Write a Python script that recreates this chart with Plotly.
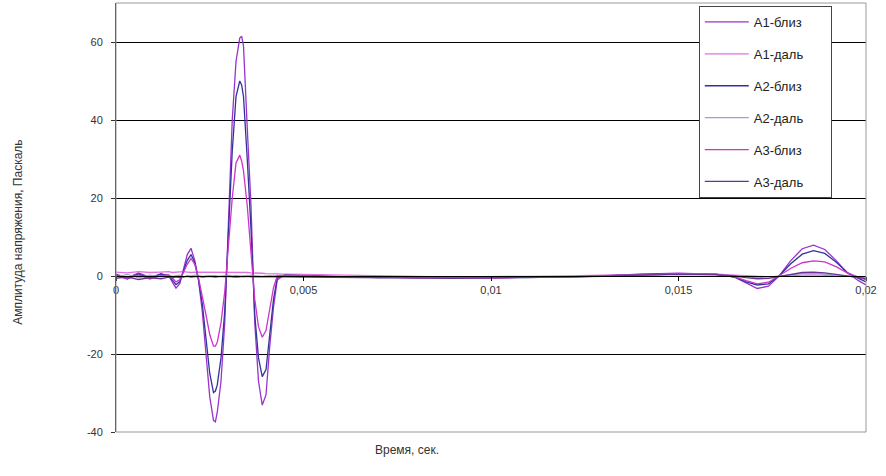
import plotly.graph_objects as go

# time grid, seconds
t = [0, 0.0003, 0.0006, 0.0009, 0.0012, 0.0014, 0.0015, 0.0016, 0.0017, 0.0018,
     0.0019, 0.0020, 0.0021, 0.0022, 0.0023, 0.0024, 0.0025, 0.0026, 0.00265, 0.0027,
     0.0028, 0.0029, 0.0030, 0.0031, 0.0032, 0.0033, 0.00335, 0.0034, 0.0035, 0.0036,
     0.0037, 0.0038, 0.0039, 0.0040, 0.0041, 0.0042, 0.0043, 0.0045, 0.0050, 0.0060,
     0.0070, 0.0080, 0.0090, 0.0100, 0.0110, 0.0120, 0.0130, 0.0140, 0.0150, 0.0160,
     0.0165, 0.0168, 0.0171, 0.0174, 0.0177, 0.0180, 0.0183, 0.0186, 0.0189, 0.0192,
     0.0195, 0.0198, 0.0200]

a1_near = [0.5, -0.5, 0.8, -0.3, 0.4, 0.2, -1.5, -3.1, -2.0, 1.5,
           5.5, 7.1, 4.0, -1.0, -9, -20, -31, -37, -37.4, -35,
           -27, -12, 13, 40, 55, 61, 61.5, 59, 38, 18,
           -12, -27, -33.1, -30.5, -18, -8, -1, 0.3, 0.2, -0.3,
           -0.2, -0.4, -0.3, -0.5, -0.3, -0.2, 0.1, 0.5, 0.7, 0.4,
           -0.3, -1.8, -3.2, -2.6, 0.2, 4.0, 7.0, 7.9, 6.8, 4.0,
           0.8, -1.2, -2.3]
a1_far = [1.0, 0.8, 1.1, 0.9, 1.0, 1.1, 0.9, 1.0, 1.0, 1.1,
          1.0, 0.9, 1.0, 1.0, 0.9, 1.0, 1.0, 0.9, 0.9, 1.0,
          1.0, 0.9, 1.0, 1.0, 0.9, 1.0, 1.0, 0.9, 0.9, 0.8,
          0.8, 0.7, 0.7, 0.6, 0.6, 0.6, 0.5, 0.5, 0.4, 0.2,
          0.0, -0.1, -0.2, -0.2, -0.1, 0.0, 0.2, 0.4, 0.6, 0.5,
          0.3, 0.1, -0.1, -0.2, -0.1, 0.1, 0.2, 0.3, 0.2, 0.1,
          0.0, -0.1, -0.2]
a2_near = [0.2, -0.8, 0.5, -0.6, 0.6, 0.0, -1.0, -2.2, -1.5, 1.0,
           4.0, 5.5, 3.5, -1.0, -7, -16, -25, -29.9, -29.5, -28,
           -21, -9, 11, 32, 46, 50, 49, 46, 30, 12,
           -10, -21, -25.8, -24, -15, -6, -0.5, 0.2, 0.1, -0.2,
           -0.4, -0.3, -0.5, -0.4, -0.4, -0.2, 0.0, 0.4, 0.6, 0.5,
           -0.3, -1.5, -2.3, -2.0, 0.2, 3.2, 5.6, 6.5, 5.8, 3.6,
           0.9, -0.6, -1.5]
a2_far = [-0.3, 0.4, -0.5, 0.2, -0.2, 0.3, -0.1, 0.0, 0.2, -0.2,
          0.1, 0.0, 0.2, 0.1, -0.1, 0.0, 0.1, 0.2, 0.1, 0.0,
          -0.1, 0.1, 0.2, 0.0, 0.1, 0.0, -0.1, 0.1, 0.0, 0.2,
          0.1, 0.0, -0.1, 0.0, 0.1, 0.0, 0.1, 0.0, -0.1, -0.2,
          -0.3, -0.3, -0.4, -0.3, -0.3, -0.2, 0.0, 0.3, 0.5, 0.4,
          0.1, -0.2, -0.4, -0.3, 0.0, 0.4, 0.6, 0.7, 0.5, 0.3,
          0.0, -0.3, -0.5]
a3_near = [0.0, -0.6, 0.3, -0.8, 0.1, 0.3, -0.5, -1.5, -1.0, 1.0,
           3.0, 4.5, 3.0, -0.5, -5, -10, -15, -18, -18, -17,
           -12, -4, 8, 20, 29, 31, 29.5, 27, 18, 6,
           -6, -13, -15.7, -14, -8, -3, 0.0, 0.1, 0.0, -0.3,
           -0.3, -0.5, -0.4, -0.5, -0.3, -0.3, 0.0, 0.3, 0.5, 0.4,
           -0.2, -1.2, -2.0, -1.6, 0.1, 2.0, 3.4, 3.9, 3.6, 2.4,
           0.8, -0.3, -1.0]
a3_far = [-0.6, -0.2, -0.9, -0.4, -0.7, -0.3, -0.5, -0.2, -0.4, -0.3,
          -0.1, -0.3, -0.2, -0.1, -0.3, -0.2, -0.1, -0.2, -0.3, -0.2,
          -0.1, -0.2, -0.1, -0.2, -0.3, -0.2, -0.1, -0.2, -0.1, -0.2,
          -0.2, -0.1, -0.2, -0.1, -0.2, -0.2, -0.1, -0.2, -0.3, -0.4,
          -0.5, -0.5, -0.6, -0.5, -0.4, -0.3, -0.1, 0.2, 0.4, 0.3,
          0.0, -0.4, -0.7, -0.6, -0.1, 0.5, 0.9, 1.0, 0.8, 0.4,
          0.0, -0.4, -0.7]

series_names = ['A1-близ', 'A1-даль', 'A2-близ', 'A2-даль', 'A3-близ', 'A3-даль']
series_values = [a1_near, a1_far, a2_near, a2_far, a3_near, a3_far]
colors = ['#9933CC', '#E070E0', '#333399', '#A0A0D0', '#CC33CC', '#663399']

x_ticks = [0, 0.005, 0.01, 0.015, 0.02]
x_ticktext = ['0', '0,005', '0,01', '0,015', '0,02']
y_ticks = [-40, -20, 0, 20, 40, 60]
y_ticktext = ['-40', '-20', '0', '20', '40', '60']

FONT = 'Liberation Sans, Arial, sans-serif'
PAD = '\u00a0' * 6  # widens the legend box a little, like the original

fig = go.Figure()
for name, vals, col in zip(series_names, series_values, colors):
    fig.add_trace(go.Scatter(x=t, y=vals, mode='lines', name=name + PAD,
                             legendgroup=name,
                             line=dict(color=col, width=1.3)))

fig.update_layout(
    width=886, height=476,
    margin=dict(l=116, r=20, t=3, b=44),
    paper_bgcolor='white', plot_bgcolor='white',
    font=dict(family=FONT, size=11, color='#333333'),
    showlegend=True,
    legend=dict(x=(698 - 116) / 749, y=(432 - 6) / 429, xanchor='left', yanchor='top',
                bgcolor='white', bordercolor='#444444', borderwidth=1,
                font=dict(size=13, color='#222222'),
                tracegroupgap=12, itemwidth=44),
    xaxis=dict(range=[0, 0.02], anchor='free', position=40 / 110,
               tickvals=x_ticks, ticktext=x_ticktext,
               showgrid=False, zeroline=False,
               showline=True, linecolor='black', linewidth=1,
               ticks='outside', ticklen=4, tickcolor='black'),
    yaxis=dict(range=[-40, 70], tickvals=y_ticks, ticktext=y_ticktext,
               showgrid=True, gridcolor='black', gridwidth=1,
               zeroline=False,
               showline=True, linecolor='#333333', linewidth=1,
               ticks='outside', ticklen=4, tickcolor='#333333',
               ticklabelstandoff=6),
    shapes=[dict(type='rect', xref='paper', yref='paper', x0=0, x1=1, y0=0, y1=1,
                 line=dict(color='#999999', width=1), layer='above')],
    annotations=[
        dict(text='Время, сек.', xref='paper', yref='paper',
             x=(407 - 116) / 749, y=(432 - 450) / 429,
             xanchor='center', yanchor='middle', showarrow=False,
             font=dict(size=12, color='#333333')),
        dict(text='Амплитуда напряжения, Паскаль', xref='paper', yref='paper',
             x=(18 - 116) / 749, y=(432 - 232) / 429, textangle=-90,
             xanchor='center', yanchor='middle', showarrow=False,
             font=dict(size=12, color='#333333')),
    ],
)

# page body has an 8px default margin; drop it so the chart sits at 0,0
fig.write_html("out.html", config={'displayModeBar': False},
               post_script="document.body.style.margin='0';")
